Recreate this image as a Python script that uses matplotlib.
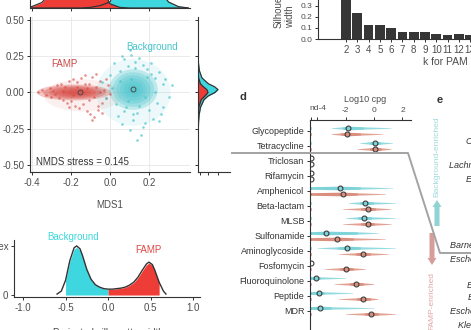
import numpy as np
import matplotlib
matplotlib.use("Agg")
import matplotlib.pyplot as plt
from matplotlib.patches import Ellipse, Rectangle, FancyArrow

plt.rcParams["font.family"] = ["Liberation Sans", "DejaVu Sans"]
plt.rcParams["axes.unicode_minus"] = False

# --- NMDS scatter (MDS1 / MDS2) ---
famp_x = [-0.37, -0.35, -0.33, -0.31, -0.30, -0.29, -0.27, -0.26, -0.25, -0.24,
          -0.23, -0.22, -0.21, -0.20, -0.19, -0.18, -0.17, -0.16, -0.15, -0.14,
          -0.13, -0.12, -0.11, -0.10, -0.09, -0.08, -0.07, -0.06, -0.05, -0.04,
          -0.03, -0.02, -0.01, 0.00, -0.12, -0.09, -0.06, -0.15, -0.19, -0.24,
          -0.28, -0.07, -0.04, -0.11, -0.02, -0.17, -0.21, -0.05, -0.08, -0.13]
famp_y = [0.00, 0.02, -0.02, 0.03, -0.03, 0.01, 0.05, -0.04, 0.06, -0.05,
          0.04, -0.07, 0.08, -0.06, 0.09, -0.09, 0.07, -0.11, 0.10, -0.08,
          0.12, -0.13, 0.06, -0.15, 0.11, -0.17, 0.04, -0.12, 0.08, -0.07,
          0.02, -0.04, 0.05, -0.01, 0.03, -0.19, -0.09, 0.02, -0.02, 0.01,
          -0.01, 0.13, -0.14, -0.05, 0.09, 0.04, -0.10, 0.00, -0.03, 0.06]
bg_x = [0.00, -0.02, 0.02, 0.04, 0.05, 0.06, 0.07, 0.08, 0.09, 0.10,
        0.11, 0.12, 0.13, 0.14, 0.15, 0.16, 0.17, 0.18, 0.19, 0.20,
        0.21, 0.22, 0.23, 0.24, 0.25, 0.26, 0.27, 0.28, 0.30, 0.32,
        0.03, 0.05, 0.09, 0.13, 0.17, 0.21, 0.25, 0.01, -0.04, 0.07,
        0.11, 0.15, 0.19, 0.23, 0.27, 0.10, 0.14, 0.06, 0.18, 0.12]
bg_y = [0.12, -0.04, 0.20, -0.16, 0.15, -0.22, 0.23, -0.10, 0.18, -0.26,
        0.26, -0.19, 0.21, -0.14, 0.24, -0.29, 0.19, -0.21, 0.16, -0.12,
        0.13, -0.18, 0.10, -0.07, 0.14, -0.15, 0.06, 0.09, -0.03, 0.05,
        -0.08, 0.08, -0.06, 0.17, -0.24, 0.20, -0.20, 0.03, 0.07, -0.13,
        0.09, -0.09, 0.11, 0.00, -0.10, 0.29, -0.33, 0.25, -0.03, -0.15]
famp_centroid = (-0.155, 0.0)
bg_centroid = (0.118, 0.027)
nmds_stress = 0.145

# marginal densities along MDS1 (top) and MDS2 (right)
mds1_grid = [-0.45, -0.40, -0.35, -0.30, -0.25, -0.20, -0.15, -0.10, -0.05,
             0.00, 0.05, 0.10, 0.15, 0.20, 0.25, 0.30, 0.35, 0.40]
famp_dens1 = [0.0, 0.12, 0.45, 1.3, 2.8, 4.1, 4.5, 3.6, 1.9,
              0.35, 0.05, 0.0, 0.0, 0.0, 0.0, 0.0, 0.0, 0.0]
bg_dens1 = [0.0, 0.0, 0.0, 0.0, 0.0, 0.0, 0.0, 0.05, 0.2,
            0.5, 2.2, 4.4, 4.6, 3.4, 1.6, 0.5, 0.12, 0.0]
mds2_grid = [-0.30, -0.20, -0.15, -0.10, -0.05, -0.025, 0.0, 0.02, 0.04,
             0.06, 0.10, 0.15, 0.20, 0.25]
bg_dens2 = [0.0, 0.3, 0.6, 1.3, 3.0, 5.0, 8.5, 10.0, 8.2, 5.2, 2.0, 0.7, 0.25, 0.0]
famp_dens2 = [0.0, 0.05, 0.15, 0.4, 1.6, 3.4, 5.0, 4.4, 2.6, 1.2, 0.3, 0.05, 0.0, 0.0]

# --- silhouette-score density ---
sil_x = [-0.60, -0.55, -0.50, -0.45, -0.40, -0.37, -0.33, -0.30, -0.25, -0.20,
         -0.15, -0.10, -0.05, 0.00, 0.05, 0.10, 0.15, 0.20, 0.25, 0.30,
         0.35, 0.40, 0.45, 0.48, 0.52, 0.55, 0.60, 0.65, 0.68]
sil_dens = [0.02, 0.08, 0.30, 0.70, 0.96, 1.00, 0.94, 0.80, 0.52, 0.32,
            0.21, 0.16, 0.13, 0.12, 0.12, 0.13, 0.14, 0.16, 0.20, 0.26,
            0.36, 0.50, 0.63, 0.67, 0.62, 0.50, 0.26, 0.08, 0.02]

# --- mean silhouette width per k (PAM) ---
k_values = [2, 3, 4, 5, 6, 7, 8, 9, 10, 11, 12, 13, 14, 15, 16]
sil_width = [0.52, 0.24, 0.125, 0.13, 0.10, 0.065, 0.063, 0.065, 0.043,
             0.040, 0.042, 0.040, 0.036, 0.033, 0.030]

# --- ARG class abundance, log10 cpg (min, q1, median, q3, max) ---
ND = -4.45
arg_classes = ["Glycopeptide", "Tetracycline", "Triclosan", "Rifamycin",
               "Amphenicol", "Beta-lactam", "MLSB", "Sulfonamide",
               "Aminoglycoside", "Fosfomycin", "Fluoroquinolone", "Peptide", "MDR"]
bg_stats = [(-3.0, -2.2, -1.8, -0.8, 1.2), (-1.0, -0.3, 0.05, 0.4, 1.3),
            (ND, ND, ND, ND, ND), (ND, ND, ND, ND, ND),
            (ND, ND, -2.4, -1.0, 1.3), (-1.8, -1.0, -0.6, -0.1, 1.5),
            (-2.0, -1.1, -0.7, -0.2, 1.5), (ND, ND, -3.4, -1.2, 0.3),
            (-4.0, -2.5, -1.9, -1.0, 1.5), (ND, ND, ND, ND, ND),
            (ND, ND, -4.1, -3.8, -2.0), (ND, ND, -3.9, -3.5, -1.5),
            (ND, ND, -3.8, -3.0, 0.0)]
famp_stats = [(-3.0, -2.3, -1.9, -1.0, 0.6), (-1.2, -0.3, 0.1, 0.5, 1.2),
              (ND, ND, ND, ND, ND), (ND, ND, ND, ND, ND),
              (ND, ND, -2.2, -1.2, 0.8), (-2.2, -0.9, -0.4, 0.1, 1.2),
              (-2.2, -0.9, -0.4, 0.0, 1.2), (ND, ND, -2.6, -1.5, 0.8),
              (-2.5, -1.3, -0.8, -0.3, 1.0), (-3.5, -2.4, -2.0, -1.5, -0.6),
              (-2.8, -1.7, -1.3, -0.8, 0.0), (-2.5, -1.2, -0.8, -0.3, 0.3),
              (-2.0, -0.6, -0.2, 0.3, 1.5)]

taxa = [("Clostridium sp.", 466, 142), ("Lachnospiraceae bacterium", 449, 166),
        ("Eubacterium rectale", 466, 180), ("Barnesiella intestinihominis", 450, 245),
        ("Escherichia sp.", 450, 259), ("Enterobacter cloacae", 467, 286),
        ("Enterobacter sp.", 468, 298), ("Escherichia coli", 450, 312),
        ("Klebsiella pneumoniae", 458, 325)]

RED = "#D8463F"
CYAN = "#45C4CC"
RED_B = "#EE3D37"
CYAN_B = "#3ED6DF"
RED_V = "#C9573D"
CYAN_V = "#3DBFC6"
AX_COL = "#333333"
TXT_COL = "#4d4d4d"

W, H = 471, 330
fig = plt.figure(figsize=(W / 100, H / 100), dpi=100)


def px_axes(x0, y0, x1, y1):
    # axes placed by pixel box, measured from the top-left corner
    return fig.add_axes([x0 / W, 1 - y1 / H, (x1 - x0) / W, (y1 - y0) / H])


def style_axes(ax, spines=("left", "bottom"), size=7):
    for name, sp in ax.spines.items():
        sp.set_visible(name in spines)
        sp.set_color(AX_COL)
        sp.set_linewidth(0.8)
    ax.tick_params(colors=AX_COL, labelcolor=TXT_COL, length=2.5, width=0.7,
                   labelsize=size, pad=1.5)
    ax.patch.set_alpha(0)


# ---------- NMDS scatter ----------
ax_a = px_axes(30, 17, 190, 172)
style_axes(ax_a)
ax_a.set_xlim(-0.41, 0.41)
ax_a.set_ylim(-0.548, 0.52)
ax_a.set_xticks([-0.4, -0.2, 0.0, 0.2], ["-0.4", "-0.2", "0.0", "0.2"])
ax_a.set_yticks([-0.5, -0.25, 0.0, 0.25, 0.5],
                ["-0.50", "-0.25", "0.00", "0.25", "0.50"])
ax_a.grid(color="#e6e6e6", lw=0.6)
ax_a.set_axisbelow(True)

# shaded cores of each cloud, stacked translucent layers
ax_a.add_patch(Ellipse((-0.14, -0.02), 0.40, 0.22, fc=RED, alpha=0.08, lw=0))
for f in [1.0, 0.85, 0.7, 0.55, 0.4, 0.25]:
    ax_a.add_patch(Ellipse((-0.185 + 0.02 * (1 - f), 0.0), 0.38 * f, 0.11 * f,
                           fc=RED, alpha=0.3, lw=0))
ax_a.add_patch(Ellipse((0.12, 0.0), 0.38, 0.46, fc=CYAN, alpha=0.1, lw=0))
for f in [1.0, 0.85, 0.7, 0.55, 0.4, 0.25]:
    ax_a.add_patch(Ellipse((0.12, 0.02), 0.25 * f, 0.28 * f,
                           fc=CYAN, alpha=0.27, lw=0))

ax_a.scatter(famp_x, famp_y, s=3.5, color=RED, alpha=0.6, lw=0)
ax_a.scatter(bg_x, bg_y, s=3.5, color=CYAN, alpha=0.7, lw=0)
for c in (famp_centroid, bg_centroid):
    ax_a.plot(*c, "o", ms=3.5, mfc="none", mec="#4a4a4a", mew=0.7)

# top marginal density (MDS1)
ax_t = px_axes(30, -52, 190, 8)
style_axes(ax_t)
ax_t.set_xlim(-0.41, 0.41)
ax_t.set_ylim(0, 5)
ax_t.set_yticks([])
ax_t.set_xticks([-0.4, -0.2, 0.0, 0.2], [])
for dens, col in [(bg_dens1, CYAN_B), (famp_dens1, RED_B)]:
    ax_t.fill_between(mds1_grid, dens, color=col, lw=0)
    ax_t.plot(mds1_grid, dens, color=AX_COL, lw=0.9)

# right marginal density (MDS2)
ax_r = px_axes(198, 17, 230, 172)
style_axes(ax_r)
ax_r.set_ylim(-0.548, 0.52)
ax_r.set_xlim(0, 16)
ax_r.set_yticks([-0.5, -0.25, 0.0, 0.25, 0.5], [])
ax_r.set_xticks([1, 5, 10], [])
for dens, col in [(bg_dens2, CYAN_B), (famp_dens2, RED_B)]:
    ax_r.fill_betweenx(mds2_grid, dens, color=col, lw=0)
    ax_r.plot(dens, mds2_grid, color=AX_COL, lw=0.9)

# ---------- silhouette density ----------
ax_b = px_axes(14, 240, 200, 297)
style_axes(ax_b)
ax_b.set_xlim(-1.106, 1.08)
ax_b.set_ylim(-0.04, 1.12)
ax_b.set_xticks([-1.0, -0.5, 0.0, 0.5, 1.0], ["-1.0", "-0.5", "0.0", "0.5", "1.0"])
ax_b.set_yticks([0, 1.0], ["0", "Index"])
sx = np.array(sil_x)
sd = np.array(sil_dens)
ax_b.fill_between(sx, sd * 0.97, where=(sx >= -0.50) & (sx <= 0.0), color=CYAN_B, lw=0)
ax_b.fill_between(sx, sd * 0.97, where=(sx >= 0.0) & (sx <= 0.60), color=RED_B, lw=0)
ax_b.plot(sx, sd, color=AX_COL, lw=1.0)

# ---------- silhouette width vs k ----------
ax_c = px_axes(318, -40, 530, 39)
style_axes(ax_c)
ax_c.set_xlim(-0.48, 18.3)
ax_c.set_ylim(0, 0.718)
ax_c.bar(k_values, sil_width, width=0.86, color="#363636")
ax_c.set_xticks(k_values, [str(k) for k in k_values])
ax_c.set_yticks([0, 0.1, 0.2, 0.3, 0.4, 0.5], ["0.0", "0.1", "0.2", "0.3", "0.4", "0.5"])
ax_c.tick_params(axis="y", labelsize=6)
ax_c.tick_params(axis="x", labelsize=7)

# ---------- ARG class abundances ----------
ax_d = px_axes(310, 120, 411, 345)
style_axes(ax_d, spines=("top", "left"), size=6)
ax_d.xaxis.tick_top()
ax_d.set_xlim(-4.5, 2.6)
ax_d.set_ylim(14.27, -0.733)
ax_d.set_xticks([ND, -4.0, -2.0, 0.0, 2.0], ["", "", "-2", "0", "2"])
ax_d.set_yticks(range(len(arg_classes)), arg_classes)
ax_d.tick_params(axis="y", labelsize=6.5, labelcolor=AX_COL)


def draw_violin(ax, y0, stats, color):
    lo, q1, med, q3, hi = stats
    if hi > ND:
        xs = [lo, q1, med, q3, hi]
        hs = np.array([0.015, 0.08, 0.13, 0.08, 0.015])
        ax.fill_between(xs, y0 - hs, y0 + hs, color=color, alpha=0.55, lw=0)
        ax.add_patch(Rectangle((q1, y0 - 0.07), q3 - q1, 0.14, fc=color, alpha=0.25,
                               ec=color, lw=0.4))
        ax.plot([ND, ND], [y0 - 0.09, y0 + 0.09], color=color, lw=0.6, alpha=0.6)
    ax.plot(med, y0, "o", ms=3.5, mfc="none", mec="#3a3a3a", mew=0.8)


for i in range(len(arg_classes)):
    draw_violin(ax_d, i - 0.2, bg_stats[i], CYAN_V)
    draw_violin(ax_d, i + 0.2, famp_stats[i], RED_V)

# ---------- overlay in pixel coordinates ----------
ax_o = fig.add_axes([0, 0, 1, 1])
ax_o.set_xlim(0, W)
ax_o.set_ylim(H, 0)
ax_o.axis("off")
ax_o.set_zorder(10)

ax_o.text(64, 64, "FAMP", color="#C94A47", fontsize=7, ha="center", va="center")
ax_o.text(152, 47, "Background", color=CYAN, fontsize=7, ha="center", va="center")
ax_o.text(36, 162, f"NMDS stress = {nmds_stress}", color=AX_COL, fontsize=7,
          ha="left", va="center")
ax_o.text(110, 205, "MDS1", color=TXT_COL, fontsize=7, ha="center", va="center")

ax_o.text(73, 237, "Background", color=CYAN_B, fontsize=7, ha="center", va="center")
ax_o.text(148, 250, "FAMP", color="#E04A44", fontsize=7, ha="center", va="center")
ax_o.text(108, 333, "Projected silhouette width", color=TXT_COL, fontsize=7,
          ha="center", va="center")

ax_o.text(284, 28, "Silhouette\nwidth", color=TXT_COL, fontsize=7, rotation=90,
          ha="center", va="bottom", multialignment="left")
ax_o.text(445, 62, "k for PAM", color=TXT_COL, fontsize=7.5, ha="center", va="center")

ax_o.text(243, 97, "d", fontsize=8, fontweight="bold", color=AX_COL, ha="center", va="center")
ax_o.text(365, 100, "Log10 cpg", fontsize=6.5, color=TXT_COL, ha="center", va="center")
ax_o.text(318, 109, "nd-4", fontsize=6, color=TXT_COL, ha="center", va="center")
ax_o.plot([232, 408, 440, 471], [153, 153, 253, 253], color="#a3a3a3", lw=1.4)

ax_o.text(440, 100, "e", fontsize=8, fontweight="bold", color=AX_COL, ha="center", va="center")
ax_o.add_patch(FancyArrow(437, 226, 0, -26, width=5, head_width=9, head_length=7,
                          length_includes_head=True, color="#8fd3d2", lw=0))
ax_o.add_patch(FancyArrow(432, 233, 0, 32, width=5, head_width=9, head_length=7,
                          length_includes_head=True, color="#d99c9d", lw=0))
ax_o.text(437, 157, "Background-enriched", color="#9fdadc", fontsize=6, rotation=90,
          ha="center", va="center")
ax_o.text(432, 301, "FAMP-enriched", color="#e3a5a6", fontsize=6, rotation=90,
          ha="center", va="center")
for name, x, y in taxa:
    ax_o.text(x, y, name, fontsize=6.5, style="italic", color=AX_COL,
              ha="left", va="center")

fig.savefig("out.png", dpi=100)
